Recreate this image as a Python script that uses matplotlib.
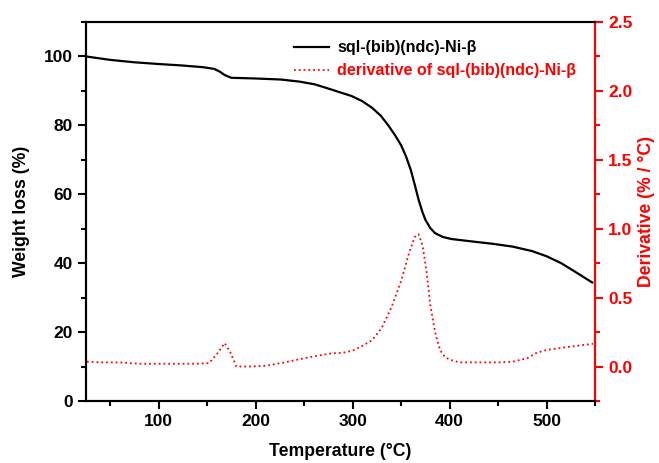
import numpy as np
import matplotlib
matplotlib.use('Agg')
from matplotlib import pyplot as plt
from matplotlib.ticker import MultipleLocator

plt.rcParams['font.family'] = ['Liberation Sans', 'DejaVu Sans']
plt.rcParams['font.weight'] = 'bold'

# TGA curve (temperature in C, weight %)
t_w = [25, 50, 75, 100, 123, 145, 157, 163, 168, 175, 200, 226, 245, 261, 278, 289,
       299, 310, 320, 329, 337, 344, 350, 355, 360, 364, 368, 372, 375, 380, 385, 393,
       402, 423, 445, 465, 485, 500, 515, 530, 547]
weight = [100, 99.0, 98.3, 97.8, 97.4, 96.9, 96.4, 95.6, 94.6, 93.8, 93.6, 93.3, 92.7,
          91.9, 90.4, 89.4, 88.5, 87.0, 85.1, 82.8, 79.9, 77.0, 74.2, 71.0, 67.0, 62.8,
          58.4, 54.8, 52.6, 50.2, 48.7, 47.6, 47.0, 46.3, 45.6, 44.8, 43.5, 42.0, 40.0,
          37.4, 34.4]

# derivative curve (% / C)
t_d = [26, 40, 60, 80, 100, 120, 140, 152, 160, 168, 174, 180, 195, 210, 230, 250,
       265, 278, 290, 300, 310, 320, 330, 340, 350, 358, 364, 368, 372, 376, 380, 385,
       390, 395, 400, 410, 430, 450, 465, 480, 490, 500, 520, 548]
deriv = [0.035, 0.03, 0.03, 0.02, 0.02, 0.02, 0.02, 0.025, 0.09, 0.17, 0.1, 0.0, 0.0,
         0.005, 0.03, 0.06, 0.08, 0.095, 0.1, 0.115, 0.15, 0.19, 0.28, 0.43, 0.62, 0.82,
         0.94, 0.96, 0.88, 0.7, 0.45, 0.25, 0.12, 0.07, 0.05, 0.03, 0.03, 0.03, 0.035,
         0.06, 0.1, 0.12, 0.14, 0.165]

fig = plt.figure(figsize=(6.59, 4.63), dpi=100)
ax = fig.add_axes([0.1305, 0.134, 0.7725, 0.8185])
ax2 = ax.twinx()

l1, = ax.plot(t_w, weight, color='black', lw=1.6, label='sql-(bib)(ndc)-Ni-β')
l2, = ax2.plot(t_d, deriv, color='red', lw=1.3, ls=':', label='derivative of sql-(bib)(ndc)-Ni-β')

ax.set_xlim(25, 550)
ax.set_ylim(0, 110)
ax2.set_ylim(-0.25, 2.5)

ax.xaxis.set_major_locator(MultipleLocator(100))
ax.xaxis.set_minor_locator(MultipleLocator(50))
ax.yaxis.set_major_locator(MultipleLocator(20))
ax.yaxis.set_minor_locator(MultipleLocator(10))
ax2.yaxis.set_major_locator(MultipleLocator(0.5))
ax2.yaxis.set_minor_locator(MultipleLocator(0.25))
ax2.yaxis.set_major_formatter(matplotlib.ticker.FormatStrFormatter('%.1f'))

for a in (ax, ax2):
    for s in a.spines.values():
        s.set_linewidth(1.5)
ax2.spines['right'].set_color('red')

ax.tick_params(axis='both', which='major', direction='out', length=6, width=1.5, labelsize=12.5)
ax.tick_params(axis='both', which='minor', direction='out', length=3.5, width=1.5)
ax2.tick_params(axis='y', which='major', direction='out', length=6, width=1.5, labelsize=12.5,
                colors='red')
ax2.tick_params(axis='y', which='minor', direction='out', length=3.5, width=1.5, colors='red')

ax.set_xlabel('Temperature (°C)', fontsize=12.7, fontweight='bold', labelpad=10)
ax.set_ylabel('Weight loss (%)', fontsize=12.7, fontweight='bold', labelpad=10)
ax2.set_ylabel('Derivative (% / °C)', fontsize=12.7, fontweight='bold', color='red', labelpad=4)

leg = ax.legend(handles=[l1, l2], loc='upper left', bbox_to_anchor=(0.38, 0.99),
                frameon=False, fontsize=11.6, handlelength=2.2, labelspacing=0.5,
                handletextpad=0.5)
leg.get_texts()[1].set_color('red')

fig.savefig('out.png', dpi=100)
